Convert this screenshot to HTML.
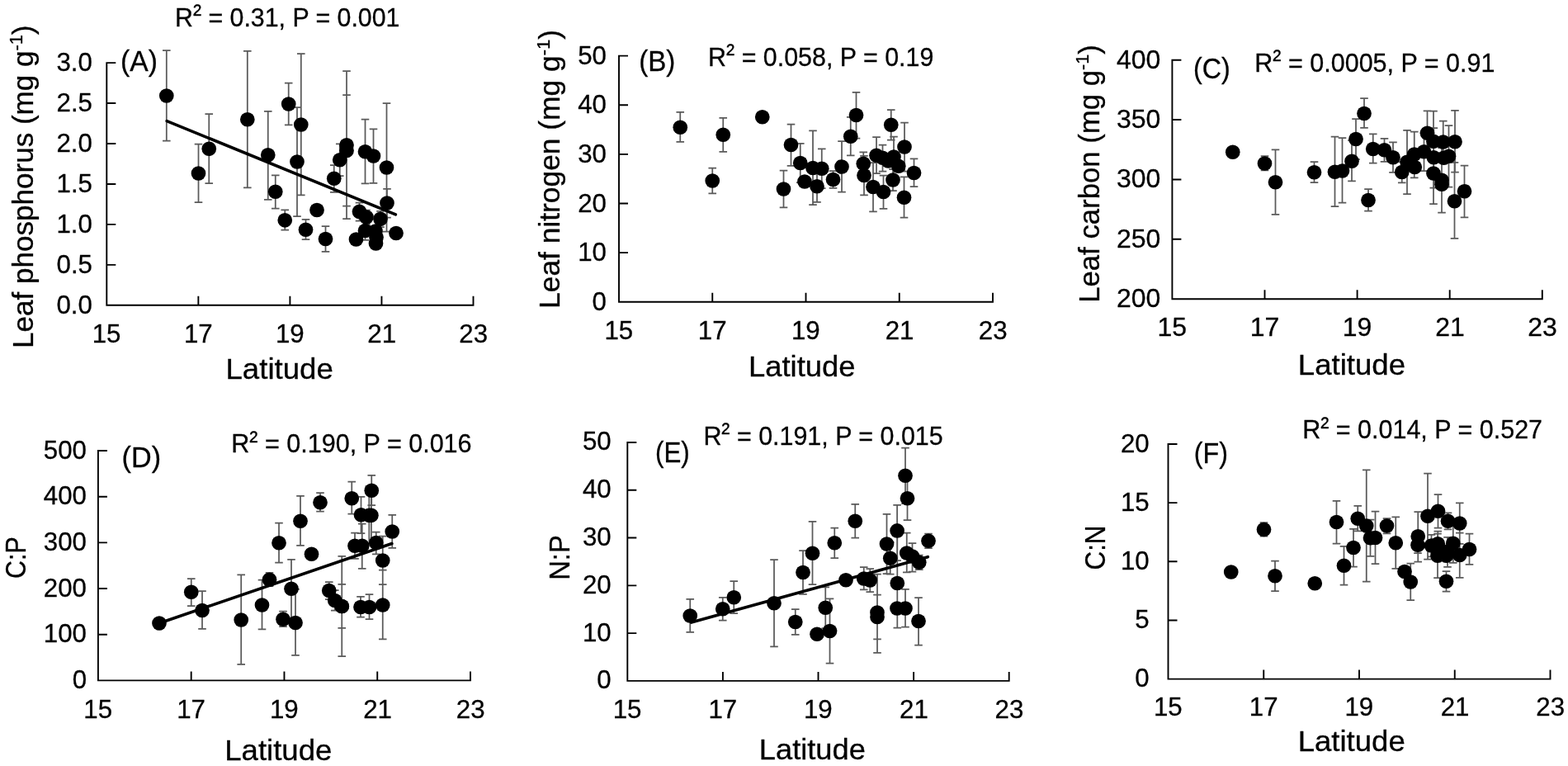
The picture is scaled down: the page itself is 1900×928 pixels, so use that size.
<!DOCTYPE html>
<html lang="en">
<head>
<meta charset="utf-8">
<title>Leaf stoichiometry versus latitude</title>
<style>
html,body{margin:0;padding:0;background:#fff;}
body{width:1900px;height:928px;overflow:hidden;}
svg{display:block;}
.t{font-family:'Liberation Sans', sans-serif;fill:#000;stroke:#000;stroke-width:0.3px;}
.e{fill:none;stroke:#5a5a5a;stroke-width:1.75;}
.rl{stroke:#000;stroke-width:3.6;stroke-linecap:round;}
.ax{fill:none;stroke:#000;stroke-linejoin:miter;}
circle{fill:#000;}
</style>
</head>
<body>
<svg width="1900" height="928" viewBox="0 0 1900 928" role="img" aria-label="Six scatter plots of leaf traits versus latitude">
<rect width="1900" height="928" fill="#fff"/>
<g id="panel-A">
<path class="e" d="M201.8 61.2V170.5M197 61.2H206.6M197 170.5H206.6M240.5 174.5V245M235.7 174.5H245.3M235.7 245H245.3M253.25 138V222M248.45 138H258.05M248.45 222H258.05M299.8 61.9V227.25M295 61.9H304.6M295 227.25H304.6M324.75 134.75V241.75M319.95 134.75H329.55M319.95 241.75H329.55M333.75 212.25V252.5M328.95 212.25H338.55M328.95 252.5H338.55M349.7 100.7V151.3M344.9 100.7H354.5M344.9 151.3H354.5M345.25 254.4V278.6M340.45 254.4H350.05M340.45 278.6H350.05M360 130V262M355.2 130H364.8M355.2 262H364.8M364.8 65.1V236.25M360 65.1H369.6M360 236.25H369.6M370.5 265.75V290M365.7 265.75H375.3M365.7 290H375.3M394.5 274V304.75M389.7 274H399.3M389.7 304.75H399.3M404.75 200V232.75M399.95 200H409.55M399.95 232.75H409.55M411.75 174.25V213M406.95 174.25H416.55M406.95 213H416.55M420 86.2V265M415.2 86.2H424.8M415.2 265H424.8M420 115.2V249.5M415.2 115.2H424.8M415.2 249.5H424.8M435.5 245.5V267.5M430.7 245.5H440.3M430.7 267.5H440.3M442.5 144.5V222.25M437.7 144.5H447.3M437.7 222.25H447.3M444 254.5V271.5M439.2 254.5H448.8M439.2 271.5H448.8M442.5 268V290.75M437.7 268H447.3M437.7 290.75H447.3M452.5 156.25V221.75M447.7 156.25H457.3M447.7 221.75H457.3M461 255.75V275M456.2 255.75H465.8M456.2 275H465.8M468.5 125V280.5M463.7 125H473.3M463.7 280.5H473.3M469 228.75V263.5M464.2 228.75H473.8M464.2 263.5H473.8"/>
<line class="rl" x1="202.14" y1="146.57" x2="479.36" y2="259.93"/>
<circle cx="201.8" cy="116" r="8.85"/>
<circle cx="240.5" cy="210" r="8.85"/>
<circle cx="253.25" cy="180.25" r="8.85"/>
<circle cx="299.8" cy="144.75" r="8.85"/>
<circle cx="324.75" cy="187.75" r="8.85"/>
<circle cx="333.75" cy="232.25" r="8.85"/>
<circle cx="349.7" cy="126" r="8.85"/>
<circle cx="345.25" cy="266.8" r="8.85"/>
<circle cx="360" cy="196" r="8.85"/>
<circle cx="364.8" cy="151" r="8.85"/>
<circle cx="370.5" cy="278.25" r="8.85"/>
<circle cx="384" cy="254.5" r="8.85"/>
<circle cx="394.5" cy="289.5" r="8.85"/>
<circle cx="404.75" cy="216.25" r="8.85"/>
<circle cx="411.75" cy="193.75" r="8.85"/>
<circle cx="420" cy="175.75" r="8.85"/>
<circle cx="420" cy="182.5" r="8.85"/>
<circle cx="431.5" cy="290" r="8.85"/>
<circle cx="435.5" cy="256.4" r="8.85"/>
<circle cx="442.5" cy="183.75" r="8.85"/>
<circle cx="444" cy="263" r="8.85"/>
<circle cx="442.5" cy="279.5" r="8.85"/>
<circle cx="452.5" cy="189" r="8.85"/>
<circle cx="455" cy="280" r="8.85"/>
<circle cx="455.5" cy="295" r="8.85"/>
<circle cx="456" cy="287.5" r="8.85"/>
<circle cx="461" cy="265.3" r="8.85"/>
<circle cx="468.5" cy="203" r="8.85"/>
<circle cx="469" cy="246.1" r="8.85"/>
<circle cx="480" cy="282.5" r="8.85"/>
<path class="ax" stroke-width="1.9" d="M129.3 75.15V369.8H574.45M129.3 320.85H140.3M129.3 271.9H140.3M129.3 222.95H140.3M129.3 174H140.3M129.3 125.05H140.3M129.3 76.1H140.3M240.35 369.8V358.8M351.4 369.8V358.8M462.45 369.8V358.8M573.5 369.8V358.8"/>
<text class="t" font-size="31.25" transform="translate(68.43 380) scale(1.0000 1)">0.0</text>
<text class="t" font-size="31.25" transform="translate(68.51 331.05) scale(1.0000 1)">0.5</text>
<text class="t" font-size="31.25" transform="translate(68.43 282.1) scale(1.0000 1)">1.0</text>
<text class="t" font-size="31.25" transform="translate(68.51 233.15) scale(1.0000 1)">1.5</text>
<text class="t" font-size="31.25" transform="translate(68.43 184.2) scale(1.0000 1)">2.0</text>
<text class="t" font-size="31.25" transform="translate(68.51 135.25) scale(1.0000 1)">2.5</text>
<text class="t" font-size="31.25" transform="translate(68.43 86.3) scale(1.0000 1)">3.0</text>
<text class="t" font-size="31.25" transform="translate(111.71 414.6) scale(1.0000 1)">15</text>
<text class="t" font-size="31.25" transform="translate(222.92 414.6) scale(1.0000 1)">17</text>
<text class="t" font-size="31.25" transform="translate(333.89 414.6) scale(1.0000 1)">19</text>
<text class="t" font-size="31.25" transform="translate(445.37 414.6) scale(1.0000 1)">21</text>
<text class="t" font-size="31.25" transform="translate(556.34 414.6) scale(1.0000 1)">23</text>
<text class="t" font-size="34.52" transform="translate(146 86.3) scale(0.9752 1)">(A)</text>
<text class="t" font-size="31.4" transform="translate(212.1 31.6) scale(0.9652 1)">R<tspan dy="-3.46">²</tspan><tspan dy="3.46"> = 0.31, P = 0.001</tspan></text>
<text class="t" font-size="34.88" transform="translate(273.48 458.7) scale(1.0502 1)">Latitude</text>
<text class="t" font-size="34.59" transform="translate(39.8 421.89) rotate(-90) scale(1.0136 1)">Leaf phosphorus (mg g<tspan font-size="21.45" dy="-12.45">-1</tspan><tspan dy="12.45">)</tspan></text>
</g>
<g id="panel-B">
<path class="e" d="M824.25 135.75V171.75M819.45 135.75H829.05M819.45 171.75H829.05M863.25 203.5V234.25M858.45 203.5H868.05M858.45 234.25H868.05M876.25 142.75V183.75M871.45 142.75H881.05M871.45 183.75H881.05M949.5 206.5V251.25M944.7 206.5H954.3M944.7 251.25H954.3M958.5 150.5V200.75M953.7 150.5H963.3M953.7 200.75H963.3M969.75 173.75V221M964.95 173.75H974.55M964.95 221H974.55M975 215V225M970.2 215H979.8M970.2 225H979.8M985 158.25V248M980.2 158.25H989.8M980.2 248H989.8M990 207V244.75M985.2 207H994.8M985.2 244.75H994.8M995.75 180.25V228M990.95 180.25H1000.55M990.95 228H1000.55M1009.5 207V227.75M1004.7 207H1014.3M1004.7 227.75H1014.3M1020 171V232.5M1015.2 171H1024.8M1015.2 232.5H1024.8M1030.75 141.75V188.25M1025.95 141.75H1035.55M1025.95 188.25H1035.55M1037.5 111.75V167.5M1032.7 111.75H1042.3M1032.7 167.5H1042.3M1046.25 184.25V212.5M1041.45 184.25H1051.05M1041.45 212.5H1051.05M1047 188.75V236.25M1042.2 188.75H1051.8M1042.2 236.25H1051.8M1058 197V256.25M1053.2 197H1062.8M1053.2 256.25H1062.8M1062 166V210M1057.2 166H1066.8M1057.2 210H1066.8M1069.5 175.5V207.5M1064.7 175.5H1074.3M1064.7 207.5H1074.3M1070.5 212.5V252.75M1065.7 212.5H1075.3M1065.7 252.75H1075.3M1079.75 133V169.5M1074.95 133H1084.55M1074.95 169.5H1084.55M1082 205V231M1077.2 205H1086.8M1077.2 231H1086.8M1083 165.5V213.75M1078.2 165.5H1087.8M1078.2 213.75H1087.8M1096 148.5V207.5M1091.2 148.5H1100.8M1091.2 207.5H1100.8M1095.5 214.25V263.5M1090.7 214.25H1100.3M1090.7 263.5H1100.3M1107.5 192.25V226M1102.7 192.25H1112.3M1102.7 226H1112.3"/>
<circle cx="824.25" cy="154.25" r="8.85"/>
<circle cx="863.25" cy="219" r="8.85"/>
<circle cx="876.25" cy="163.25" r="8.85"/>
<circle cx="923.75" cy="141.75" r="8.85"/>
<circle cx="949.5" cy="229" r="8.85"/>
<circle cx="958.5" cy="175.5" r="8.85"/>
<circle cx="969.75" cy="197.5" r="8.85"/>
<circle cx="975" cy="220" r="8.85"/>
<circle cx="985" cy="203.5" r="8.85"/>
<circle cx="990" cy="225.75" r="8.85"/>
<circle cx="995.75" cy="204.25" r="8.85"/>
<circle cx="1009.5" cy="217.5" r="8.85"/>
<circle cx="1020" cy="202" r="8.85"/>
<circle cx="1030.75" cy="165.25" r="8.85"/>
<circle cx="1037.5" cy="139.5" r="8.85"/>
<circle cx="1046.25" cy="198.25" r="8.85"/>
<circle cx="1047" cy="212.5" r="8.85"/>
<circle cx="1058" cy="226.5" r="8.85"/>
<circle cx="1062" cy="188.25" r="8.85"/>
<circle cx="1069.5" cy="191.25" r="8.85"/>
<circle cx="1070.5" cy="232.5" r="8.85"/>
<circle cx="1076.25" cy="195" r="8.85"/>
<circle cx="1079.75" cy="151.25" r="8.85"/>
<circle cx="1082" cy="218" r="8.85"/>
<circle cx="1083" cy="190" r="8.85"/>
<circle cx="1088.75" cy="201.25" r="8.85"/>
<circle cx="1096" cy="178" r="8.85"/>
<circle cx="1095.5" cy="239.25" r="8.85"/>
<circle cx="1107.5" cy="209.5" r="8.85"/>
<path class="ax" stroke-width="1.9" d="M750 66.65V365.8H1203.95M750 306.16H761M750 246.52H761M750 186.88H761M750 127.24H761M750 67.6H761M863.25 365.8V354.8M976.5 365.8V354.8M1089.75 365.8V354.8M1203 365.8V354.8"/>
<text class="t" font-size="31.25" transform="translate(717.58 376) scale(1.0000 1)">0</text>
<text class="t" font-size="31.25" transform="translate(700.23 316.36) scale(1.0000 1)">10</text>
<text class="t" font-size="31.25" transform="translate(700.23 256.72) scale(1.0000 1)">20</text>
<text class="t" font-size="31.25" transform="translate(700.23 197.08) scale(1.0000 1)">30</text>
<text class="t" font-size="31.25" transform="translate(700.23 137.44) scale(1.0000 1)">40</text>
<text class="t" font-size="31.25" transform="translate(700.23 77.8) scale(1.0000 1)">50</text>
<text class="t" font-size="31.25" transform="translate(732.41 411.4) scale(1.0000 1)">15</text>
<text class="t" font-size="31.25" transform="translate(845.82 411.4) scale(1.0000 1)">17</text>
<text class="t" font-size="31.25" transform="translate(958.99 411.4) scale(1.0000 1)">19</text>
<text class="t" font-size="31.25" transform="translate(1072.67 411.4) scale(1.0000 1)">21</text>
<text class="t" font-size="31.25" transform="translate(1185.84 411.4) scale(1.0000 1)">23</text>
<text class="t" font-size="34.52" transform="translate(774.18 86.25) scale(0.9596 1)">(B)</text>
<text class="t" font-size="32.27" transform="translate(858.09 79.75) scale(0.9423 1)">R<tspan dy="-3.55">²</tspan><tspan dy="3.55"> = 0.058, P = 0.19</tspan></text>
<text class="t" font-size="34.88" transform="translate(907 456) scale(1.0439 1)">Latitude</text>
<text class="t" font-size="34.59" transform="translate(678.3 373.92) rotate(-90) scale(1.0229 1)">Leaf nitrogen (mg g<tspan font-size="21.45" dy="-12.45">-1</tspan><tspan dy="12.45">)</tspan></text>
</g>
<g id="panel-C">
<path class="e" d="M1532.5 189V206.25M1527.7 189H1537.3M1527.7 206.25H1537.3M1545.5 181.25V259.75M1540.7 181.25H1550.3M1540.7 259.75H1550.3M1592.5 196V221M1587.7 196H1597.3M1587.7 221H1597.3M1617.5 165.5V250M1612.7 165.5H1622.3M1612.7 250H1622.3M1626.5 167V245.5M1621.7 167H1631.3M1621.7 245.5H1631.3M1638 170V219.25M1633.2 170H1642.8M1633.2 219.25H1642.8M1643 144V193M1638.2 144H1647.8M1638.2 193H1647.8M1653 119V154.75M1648.2 119H1657.8M1648.2 154.75H1657.8M1658 229V255.5M1653.2 229H1662.8M1653.2 255.5H1662.8M1663.75 162.25V197.5M1658.95 162.25H1668.55M1658.95 197.5H1668.55M1677.5 167.75V195.75M1672.7 167.75H1682.3M1672.7 195.75H1682.3M1688 172.25V208.75M1683.2 172.25H1692.8M1683.2 208.75H1692.8M1698.75 196V221.25M1693.95 196H1703.55M1693.95 221.25H1703.55M1705 157.75V235M1700.2 157.75H1709.8M1700.2 235H1709.8M1713.75 159.5V215.25M1708.95 159.5H1718.55M1708.95 215.25H1718.55M1725.5 160.5V207M1720.7 160.5H1730.3M1720.7 207H1730.3M1729.5 134.25V188M1724.7 134.25H1734.3M1724.7 188H1734.3M1737 134.5V208M1732.2 134.5H1741.8M1732.2 208H1741.8M1737.3 155V227.5M1732.5 155H1742.1M1732.5 227.5H1742.1M1737 173V247M1732.2 173H1741.8M1732.2 247H1741.8M1747 179V257.5M1742.2 179H1751.8M1742.2 257.5H1751.8M1748.75 146.5V197.5M1743.95 146.5H1753.55M1743.95 197.5H1753.55M1755.5 152V226.5M1750.7 152H1760.3M1750.7 226.5H1760.3M1763 133.75V208.5M1758.2 133.75H1767.8M1758.2 208.5H1767.8M1762.5 196.9V288.75M1757.7 196.9H1767.3M1757.7 288.75H1767.3M1774.5 200.5V263.25M1769.7 200.5H1779.3M1769.7 263.25H1779.3"/>
<circle cx="1493.75" cy="184.25" r="8.85"/>
<circle cx="1532.5" cy="198" r="8.85"/>
<circle cx="1545.5" cy="220.75" r="8.85"/>
<circle cx="1592.5" cy="208.75" r="8.85"/>
<circle cx="1617.5" cy="208.25" r="8.85"/>
<circle cx="1626.5" cy="207" r="8.85"/>
<circle cx="1638" cy="195.25" r="8.85"/>
<circle cx="1643" cy="168.5" r="8.85"/>
<circle cx="1653" cy="137.5" r="8.85"/>
<circle cx="1658" cy="242.5" r="8.85"/>
<circle cx="1663.75" cy="180.5" r="8.85"/>
<circle cx="1677.5" cy="181.75" r="8.85"/>
<circle cx="1688" cy="190.75" r="8.85"/>
<circle cx="1698.75" cy="208.5" r="8.85"/>
<circle cx="1705" cy="196.25" r="8.85"/>
<circle cx="1713.75" cy="187" r="8.85"/>
<circle cx="1714.25" cy="202.5" r="8.85"/>
<circle cx="1725.5" cy="183.75" r="8.85"/>
<circle cx="1729.5" cy="161.25" r="8.85"/>
<circle cx="1737" cy="171.25" r="8.85"/>
<circle cx="1737.3" cy="190.75" r="8.85"/>
<circle cx="1737" cy="210" r="8.85"/>
<circle cx="1747" cy="218.25" r="8.85"/>
<circle cx="1747" cy="223.25" r="8.85"/>
<circle cx="1748.75" cy="172" r="8.85"/>
<circle cx="1749.5" cy="191.25" r="8.85"/>
<circle cx="1755.5" cy="189.25" r="8.85"/>
<circle cx="1763" cy="171.75" r="8.85"/>
<circle cx="1762.5" cy="243.75" r="8.85"/>
<circle cx="1774.5" cy="231.75" r="8.85"/>
<path class="ax" stroke-width="1.9" d="M1420.4 71.75V362.2H1869.75M1420.4 289.82H1431.4M1420.4 217.45H1431.4M1420.4 145.07H1431.4M1420.4 72.7H1431.4M1532.5 362.2V351.2M1644.6 362.2V351.2M1756.7 362.2V351.2M1868.8 362.2V351.2"/>
<text class="t" font-size="31.98" transform="translate(1352.98 372) scale(1.0000 1)">200</text>
<text class="t" font-size="31.98" transform="translate(1352.98 299.62) scale(1.0000 1)">250</text>
<text class="t" font-size="31.98" transform="translate(1352.98 227.25) scale(1.0000 1)">300</text>
<text class="t" font-size="31.98" transform="translate(1352.98 154.88) scale(1.0000 1)">350</text>
<text class="t" font-size="31.98" transform="translate(1352.98 82.5) scale(1.0000 1)">400</text>
<text class="t" font-size="31.98" transform="translate(1402.39 407.3) scale(1.0000 1)">15</text>
<text class="t" font-size="31.98" transform="translate(1514.65 407.3) scale(1.0000 1)">17</text>
<text class="t" font-size="31.98" transform="translate(1626.67 407.3) scale(1.0000 1)">19</text>
<text class="t" font-size="31.98" transform="translate(1739.21 407.3) scale(1.0000 1)">21</text>
<text class="t" font-size="31.98" transform="translate(1851.23 407.3) scale(1.0000 1)">23</text>
<text class="t" font-size="34.52" transform="translate(1445.99 94.6) scale(0.9339 1)">(C)</text>
<text class="t" font-size="31.4" transform="translate(1520.28 86.5) scale(0.9719 1)">R<tspan dy="-3.46">²</tspan><tspan dy="3.46"> = 0.0005, P = 0.91</tspan></text>
<text class="t" font-size="34.88" transform="translate(1572.78 454) scale(1.0498 1)">Latitude</text>
<text class="t" font-size="34.59" transform="translate(1331.5 366.87) rotate(-90) scale(1.0045 1)">Leaf carbon (mg g<tspan font-size="21.45" dy="-12.45">-1</tspan><tspan dy="12.45">)</tspan></text>
</g>
<g id="panel-D">
<path class="e" d="M231.75 701V734M226.95 701H236.55M226.95 734H236.55M245 716V761.75M240.2 716H249.8M240.2 761.75H249.8M292.2 696.25V804.75M287.4 696.25H297M287.4 804.75H297M317.5 702.5V762.25M312.7 702.5H322.3M312.7 762.25H322.3M326.5 693.75V710M321.7 693.75H331.3M321.7 710H331.3M338 633.5V681.5M333.2 633.5H342.8M333.2 681.5H342.8M343 740.5V759M338.2 740.5H347.8M338.2 759H347.8M353 677.75V748.75M348.2 677.75H357.8M348.2 748.75H357.8M358 713.75V793.75M353.2 713.75H362.8M353.2 793.75H362.8M364 600.75V660.75M359.2 600.75H368.8M359.2 660.75H368.8M388 597V619.5M383.2 597H392.8M383.2 619.5H392.8M398.75 705V726M393.95 705H403.55M393.95 726H403.55M405.75 715V739.5M400.95 715H410.55M400.95 739.5H410.55M414.25 673.75V795M409.45 673.75H419.05M409.45 795H419.05M414.25 707.75V760.75M409.45 707.75H419.05M409.45 760.75H419.05M426.25 583.5V622.5M421.45 583.5H431.05M421.45 622.5H431.05M430 645.5V676.75M425.2 645.5H434.8M425.2 676.75H434.8M437.5 601.75V646M432.7 601.75H442.3M432.7 646H442.3M438.75 634.5V688.75M433.95 634.5H443.55M433.95 688.75H443.55M437 722.75V747.5M432.2 722.75H441.8M432.2 747.5H441.8M447.5 720V750M442.7 720H452.3M442.7 750H452.3M447.3 589V659M442.5 589H452.1M442.5 659H452.1M449.9 589V659M445.1 589H454.7M445.1 659H454.7M450.25 575.75V612M445.45 575.75H455.05M445.45 612H455.05M455.75 644.5V671.25M450.95 644.5H460.55M450.95 671.25H460.55M463.75 649.5V708M458.95 649.5H468.55M458.95 708H468.55M463.75 690.5V774.25M458.95 690.5H468.55M458.95 774.25H468.55M475.25 623.75V663.75M470.45 623.75H480.05M470.45 663.75H480.05"/>
<line class="rl" x1="194.42" y1="754.51" x2="474.83" y2="658.49"/>
<circle cx="193" cy="755" r="8.85"/>
<circle cx="231.75" cy="717.25" r="8.85"/>
<circle cx="245" cy="739.5" r="8.85"/>
<circle cx="292.2" cy="751" r="8.85"/>
<circle cx="317.5" cy="733" r="8.85"/>
<circle cx="326.5" cy="702.25" r="8.85"/>
<circle cx="338" cy="657.75" r="8.85"/>
<circle cx="343" cy="750.25" r="8.85"/>
<circle cx="353" cy="713.25" r="8.85"/>
<circle cx="358" cy="754.5" r="8.85"/>
<circle cx="364" cy="631.25" r="8.85"/>
<circle cx="377.5" cy="671.25" r="8.85"/>
<circle cx="388" cy="608.75" r="8.85"/>
<circle cx="398.75" cy="715.5" r="8.85"/>
<circle cx="405.75" cy="727.5" r="8.85"/>
<circle cx="414.25" cy="734.5" r="8.85"/>
<circle cx="414.25" cy="734.5" r="8.85"/>
<circle cx="426.25" cy="603.75" r="8.85"/>
<circle cx="430" cy="661.25" r="8.85"/>
<circle cx="437.5" cy="623.75" r="8.85"/>
<circle cx="438.75" cy="661.25" r="8.85"/>
<circle cx="437" cy="735.5" r="8.85"/>
<circle cx="447.5" cy="735.5" r="8.85"/>
<circle cx="447.3" cy="624.3" r="8.85"/>
<circle cx="449.9" cy="624.3" r="8.85"/>
<circle cx="450.25" cy="594.25" r="8.85"/>
<circle cx="455.75" cy="657.5" r="8.85"/>
<circle cx="463.75" cy="679" r="8.85"/>
<circle cx="463.75" cy="733" r="8.85"/>
<circle cx="475.25" cy="644" r="8.85"/>
<path class="ax" stroke-width="1.9" d="M118.9 545.05V824.4H570.95M118.9 768.72H129.9M118.9 713.04H129.9M118.9 657.36H129.9M118.9 601.68H129.9M118.9 546H129.9M231.68 824.4V813.4M344.45 824.4V813.4M457.23 824.4V813.4M570 824.4V813.4"/>
<text class="t" font-size="31.25" transform="translate(87.63 834.1) scale(1.0000 1)">0</text>
<text class="t" font-size="31.25" transform="translate(52.86 778.42) scale(1.0000 1)">100</text>
<text class="t" font-size="31.25" transform="translate(52.86 722.74) scale(1.0000 1)">200</text>
<text class="t" font-size="31.25" transform="translate(52.86 667.06) scale(1.0000 1)">300</text>
<text class="t" font-size="31.25" transform="translate(52.86 611.38) scale(1.0000 1)">400</text>
<text class="t" font-size="31.25" transform="translate(52.86 555.7) scale(1.0000 1)">500</text>
<text class="t" font-size="31.25" transform="translate(101.31 869.9) scale(1.0000 1)">15</text>
<text class="t" font-size="31.25" transform="translate(214.24 869.9) scale(1.0000 1)">17</text>
<text class="t" font-size="31.25" transform="translate(326.94 869.9) scale(1.0000 1)">19</text>
<text class="t" font-size="31.25" transform="translate(440.14 869.9) scale(1.0000 1)">21</text>
<text class="t" font-size="31.25" transform="translate(552.84 869.9) scale(1.0000 1)">23</text>
<text class="t" font-size="34.52" transform="translate(147.56 566.2) scale(0.9912 1)">(D)</text>
<text class="t" font-size="31.4" transform="translate(280.28 548) scale(0.9724 1)">R<tspan dy="-3.46">²</tspan><tspan dy="3.46"> = 0.190, P = 0.016</tspan></text>
<text class="t" font-size="34.88" transform="translate(272.18 920.8) scale(1.0498 1)">Latitude</text>
<text class="t" font-size="34.59" transform="translate(31.4 700.92) rotate(-90) scale(0.8774 1)">C:P</text>
</g>
<g id="panel-E">
<path class="e" d="M836.25 725.75V765.75M831.45 725.75H841.05M831.45 765.75H841.05M875.75 723.75V751.5M870.95 723.75H880.55M870.95 751.5H880.55M889.25 704V743M884.45 704H894.05M884.45 743H894.05M938 678V783.25M933.2 678H942.8M933.2 783.25H942.8M963.75 738V768.75M958.95 738H968.55M958.95 768.75H968.55M973 667V719.75M968.2 667H977.8M968.2 719.75H977.8M984.5 631.75V708M979.7 631.75H989.3M979.7 708H989.3M1000.25 711.25V761M995.45 711.25H1005.05M995.45 761H1005.05M1005.5 725.25V803.5M1000.7 725.25H1010.3M1000.7 803.5H1010.3M1011.25 639.5V676M1006.45 639.5H1016.05M1006.45 676H1016.05M1036.25 610.75V651.5M1031.45 610.75H1041.05M1031.45 651.5H1041.05M1046.75 687V714.25M1041.95 687H1051.55M1041.95 714.25H1051.55M1054.25 689V717M1049.45 689H1059.05M1049.45 717H1059.05M1063 695.5V790.75M1058.2 695.5H1067.8M1058.2 790.75H1067.8M1063 720.5V774.25M1058.2 720.5H1067.8M1058.2 774.25H1067.8M1074.5 622.75V695M1069.7 622.75H1079.3M1069.7 695H1079.3M1078.75 657V695.5M1073.95 657H1083.55M1073.95 695.5H1083.55M1087.1 611.9V679M1082.3 611.9H1091.9M1082.3 679H1091.9M1087.3 645V760.5M1082.5 645H1092.1M1082.5 760.5H1092.1M1097 713.75V759.5M1092.2 713.75H1101.8M1092.2 759.5H1101.8M1097 542.5V610M1092.2 542.5H1101.8M1092.2 610H1101.8M1099.5 577V630M1094.7 577H1104.3M1094.7 630H1104.3M1098.75 645.5V693.25M1093.95 645.5H1103.55M1093.95 693.25H1103.55M1105.5 658V692.5M1100.7 658H1110.3M1100.7 692.5H1110.3M1113.75 672.5V690M1108.95 672.5H1118.55M1108.95 690H1118.55M1113 724V781.5M1108.2 724H1117.8M1108.2 781.5H1117.8M1125 646.5V664.2M1120.2 646.5H1129.8M1120.2 664.2H1129.8"/>
<line class="rl" x1="837.7" y1="754.1" x2="1124.3" y2="674.65"/>
<circle cx="836.25" cy="746" r="8.85"/>
<circle cx="875.75" cy="737.75" r="8.85"/>
<circle cx="889.25" cy="723.75" r="8.85"/>
<circle cx="938" cy="730.75" r="8.85"/>
<circle cx="963.75" cy="753.5" r="8.85"/>
<circle cx="973" cy="693.5" r="8.85"/>
<circle cx="984.5" cy="670.25" r="8.85"/>
<circle cx="990" cy="768.25" r="8.85"/>
<circle cx="1000.25" cy="736.25" r="8.85"/>
<circle cx="1005.5" cy="764.5" r="8.85"/>
<circle cx="1011.25" cy="657.75" r="8.85"/>
<circle cx="1025" cy="702.75" r="8.85"/>
<circle cx="1036.25" cy="631.25" r="8.85"/>
<circle cx="1046.75" cy="701" r="8.85"/>
<circle cx="1054.25" cy="703" r="8.85"/>
<circle cx="1063" cy="742" r="8.85"/>
<circle cx="1063" cy="747.5" r="8.85"/>
<circle cx="1074.5" cy="659" r="8.85"/>
<circle cx="1078.75" cy="676.25" r="8.85"/>
<circle cx="1087.1" cy="642.9" r="8.85"/>
<circle cx="1087.3" cy="706.5" r="8.85"/>
<circle cx="1087" cy="737" r="8.85"/>
<circle cx="1097" cy="737" r="8.85"/>
<circle cx="1097" cy="576.25" r="8.85"/>
<circle cx="1099.5" cy="603.75" r="8.85"/>
<circle cx="1098.75" cy="670" r="8.85"/>
<circle cx="1105.5" cy="674" r="8.85"/>
<circle cx="1113.75" cy="681.25" r="8.85"/>
<circle cx="1113" cy="752.5" r="8.85"/>
<circle cx="1125" cy="655.25" r="8.85"/>
<path class="ax" stroke-width="1.9" d="M760.3 535.05V824.9H1223.65M760.3 767.12H771.3M760.3 709.34H771.3M760.3 651.56H771.3M760.3 593.78H771.3M760.3 536H771.3M875.9 824.9V813.9M991.5 824.9V813.9M1107.1 824.9V813.9M1222.7 824.9V813.9"/>
<text class="t" font-size="31.25" transform="translate(723.33 834.3) scale(1.0000 1)">0</text>
<text class="t" font-size="31.25" transform="translate(705.98 776.52) scale(1.0000 1)">10</text>
<text class="t" font-size="31.25" transform="translate(705.98 718.74) scale(1.0000 1)">20</text>
<text class="t" font-size="31.25" transform="translate(705.98 660.96) scale(1.0000 1)">30</text>
<text class="t" font-size="31.25" transform="translate(705.98 603.18) scale(1.0000 1)">40</text>
<text class="t" font-size="31.25" transform="translate(705.98 545.4) scale(1.0000 1)">50</text>
<text class="t" font-size="31.25" transform="translate(742.71 870.4) scale(1.0000 1)">15</text>
<text class="t" font-size="31.25" transform="translate(858.47 870.4) scale(1.0000 1)">17</text>
<text class="t" font-size="31.25" transform="translate(973.99 870.4) scale(1.0000 1)">19</text>
<text class="t" font-size="31.25" transform="translate(1090.02 870.4) scale(1.0000 1)">21</text>
<text class="t" font-size="31.25" transform="translate(1205.54 870.4) scale(1.0000 1)">23</text>
<text class="t" font-size="34.52" transform="translate(794.04 559.9) scale(0.9068 1)">(E)</text>
<text class="t" font-size="31.4" transform="translate(852.39 538.6) scale(0.9691 1)">R<tspan dy="-3.46">²</tspan><tspan dy="3.46"> = 0.191, P = 0.015</tspan></text>
<text class="t" font-size="34.88" transform="translate(919.81 920.3) scale(1.0398 1)">Latitude</text>
<text class="t" font-size="34.59" transform="translate(690 702.69) rotate(-90) scale(0.9432 1)">N:P</text>
</g>
<g id="panel-F">
<path class="e" d="M1531.5 633V649.5M1526.7 633H1536.3M1526.7 649.5H1536.3M1545 679.5V716M1540.2 679.5H1549.8M1540.2 716H1549.8M1619.5 606.75V658.5M1614.7 606.75H1624.3M1614.7 658.5H1624.3M1628.5 661.75V708.5M1623.7 661.75H1633.3M1623.7 708.5H1633.3M1640 640.75V686.5M1635.2 640.75H1644.8M1635.2 686.5H1644.8M1645.25 612.75V643.25M1640.45 612.75H1650.05M1640.45 643.25H1650.05M1655.75 569.25V704.5M1650.95 569.25H1660.55M1650.95 704.5H1660.55M1660.5 629.5V673.75M1655.7 629.5H1665.3M1655.7 673.75H1665.3M1666.5 619.5V683M1661.7 619.5H1671.3M1661.7 683H1671.3M1680.5 628V646.25M1675.7 628H1685.3M1675.7 646.25H1685.3M1691.25 626.25V688.75M1686.45 626.25H1696.05M1686.45 688.75H1696.05M1709.25 682.5V727M1704.45 682.5H1714.05M1704.45 727H1714.05M1718.25 620V680.6M1713.45 620H1723.05M1713.45 680.6H1723.05M1718 650.5V670M1713.2 650.5H1722.8M1713.2 670H1722.8M1730 573.5V677.5M1725.2 573.5H1734.8M1725.2 677.5H1734.8M1734.5 647.75V674.25M1729.7 647.75H1739.3M1729.7 674.25H1739.3M1742.5 599V639.5M1737.7 599H1747.3M1737.7 639.5H1747.3M1742.3 643.5V674M1737.5 643.5H1747.1M1737.5 674H1747.1M1742 646.5V700M1737.2 646.5H1746.8M1737.2 700H1746.8M1752.5 692V716.5M1747.7 692H1757.3M1747.7 716.5H1757.3M1754 650.9V686.9M1749.2 650.9H1758.8M1749.2 686.9H1758.8M1754.5 621.25V641.25M1749.7 621.25H1759.3M1749.7 641.25H1759.3M1760.8 634.6V681.9M1756 634.6H1765.6M1756 681.9H1765.6M1768.75 609.25V658.75M1763.95 609.25H1773.55M1763.95 658.75H1773.55M1768.75 645.5V699.75M1763.95 645.5H1773.55M1763.95 699.75H1773.55M1780.5 646.5V683.75M1775.7 646.5H1785.3M1775.7 683.75H1785.3"/>
<circle cx="1491.75" cy="693" r="8.85"/>
<circle cx="1531.5" cy="641.5" r="8.85"/>
<circle cx="1545" cy="697.75" r="8.85"/>
<circle cx="1593.25" cy="706.75" r="8.85"/>
<circle cx="1619.5" cy="632.5" r="8.85"/>
<circle cx="1628.5" cy="685.25" r="8.85"/>
<circle cx="1640" cy="663.5" r="8.85"/>
<circle cx="1645.25" cy="628.25" r="8.85"/>
<circle cx="1655.75" cy="637" r="8.85"/>
<circle cx="1660.5" cy="651.75" r="8.85"/>
<circle cx="1666.5" cy="651.5" r="8.85"/>
<circle cx="1680.5" cy="637" r="8.85"/>
<circle cx="1691.25" cy="657.75" r="8.85"/>
<circle cx="1702" cy="692.5" r="8.85"/>
<circle cx="1709.25" cy="705" r="8.85"/>
<circle cx="1718.25" cy="649.75" r="8.85"/>
<circle cx="1718" cy="660.25" r="8.85"/>
<circle cx="1730" cy="625.25" r="8.85"/>
<circle cx="1734.5" cy="661" r="8.85"/>
<circle cx="1742.5" cy="619.25" r="8.85"/>
<circle cx="1742.3" cy="658.75" r="8.85"/>
<circle cx="1742" cy="673.25" r="8.85"/>
<circle cx="1752.5" cy="704.25" r="8.85"/>
<circle cx="1752.5" cy="673.25" r="8.85"/>
<circle cx="1754" cy="668" r="8.85"/>
<circle cx="1754.5" cy="631.25" r="8.85"/>
<circle cx="1760.8" cy="658.25" r="8.85"/>
<circle cx="1768.75" cy="634" r="8.85"/>
<circle cx="1768.75" cy="672.5" r="8.85"/>
<circle cx="1780.5" cy="665.5" r="8.85"/>
<path class="ax" stroke-width="1.9" d="M1415.5 537.05V822.6H1879.45M1415.5 751.45H1426.5M1415.5 680.3H1426.5M1415.5 609.15H1426.5M1415.5 538H1426.5M1531.25 822.6V811.6M1647 822.6V811.6M1762.75 822.6V811.6M1878.5 822.6V811.6"/>
<text class="t" font-size="31.25" transform="translate(1375.23 832.3) scale(1.0000 1)">0</text>
<text class="t" font-size="31.25" transform="translate(1375.31 761.15) scale(1.0000 1)">5</text>
<text class="t" font-size="31.25" transform="translate(1357.88 690) scale(1.0000 1)">10</text>
<text class="t" font-size="31.25" transform="translate(1357.96 618.85) scale(1.0000 1)">15</text>
<text class="t" font-size="31.25" transform="translate(1357.88 547.7) scale(1.0000 1)">20</text>
<text class="t" font-size="31.25" transform="translate(1397.91 866.8) scale(1.0000 1)">15</text>
<text class="t" font-size="31.25" transform="translate(1513.82 866.8) scale(1.0000 1)">17</text>
<text class="t" font-size="31.25" transform="translate(1629.49 866.8) scale(1.0000 1)">19</text>
<text class="t" font-size="31.25" transform="translate(1745.67 866.8) scale(1.0000 1)">21</text>
<text class="t" font-size="31.25" transform="translate(1861.34 866.8) scale(1.0000 1)">23</text>
<text class="t" font-size="34.52" transform="translate(1446.79 560.7) scale(0.9325 1)">(F)</text>
<text class="t" font-size="31.4" transform="translate(1578.19 531.2) scale(0.9708 1)">R<tspan dy="-3.46">²</tspan><tspan dy="3.46"> = 0.014, P = 0.527</tspan></text>
<text class="t" font-size="34.88" transform="translate(1572.68 910) scale(1.0481 1)">Latitude</text>
<text class="t" font-size="34.59" transform="translate(1338.5 690.57) rotate(-90) scale(0.9090 1)">C:N</text>
</g>
</svg>
</body>
</html>
